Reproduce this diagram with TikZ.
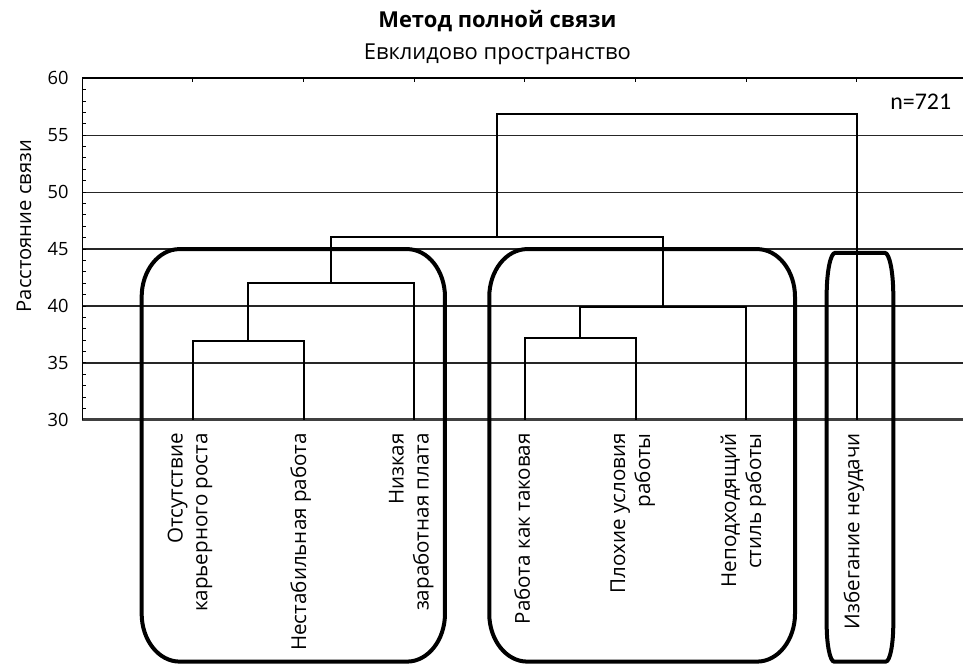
\documentclass[tikz,border=0pt]{standalone}
\usepackage{fontspec}
\setmainfont{Open Sans}
\newfontfamily\calibrifont{Carlito}
\usepackage{tikz}
\tikzset{
    link/.style={draw=black, line width=0.42mm},
    gridline/.style={draw=black!85, line width=0.25mm},
    cluster/.style={draw=black, line width=0.8mm},
    leaflabel/.style={rotate=90, anchor=east, align=right, inner sep=0pt, font=\fontsize{11.7pt}{14.2pt}\selectfont},
    ticklabel/.style={anchor=east, inner sep=0pt, font=\fontsize{10.4pt}{12pt}\selectfont}
}

\begin{document}
\begin{tikzpicture}[x=2.2134cm, y=0.2278cm]
    \useasboundingbox (-0.744,8.49) rectangle (7.958,66.87);
    % grid and axes
    \foreach \d in {35,40,...,55}
        \draw[gridline] (0,\d) -- (7.958,\d);
    \draw[black!75, line width=0.6mm] (0,30) -- (7.958,30);
    \draw[line width=0.3mm] (0,30) -- (0,60) -- (7.958,60);
    \foreach \d in {31,...,59}
        \draw[line width=0.2mm] (0,\d) -- ++(0.07cm,0);
    \foreach \i in {1,...,7}
        \draw[line width=0.2mm] (\i,60) -- ++(0,-0.08cm);
    \foreach \d in {30,35,...,60}
        \node[ticklabel] (t\d) at ([xshift=-0.27cm]0,\d) {\d};

    \node[anchor=base, font=\fontsize{12.5pt}{15pt}\selectfont\bfseries] (title) at (3.75,64.42) {Метод полной связи};
    \node[anchor=base, font=\fontsize{12.5pt}{15pt}\selectfont] (subtitle) at (3.75,61.61) {Евклидово пространство};
    \node[rotate=90, font=\fontsize{11.5pt}{13pt}\selectfont] (ylab) at (-0.527,47.03) {Расстояние связи};
    \node[anchor=base west, inner sep=0pt, font=\calibrifont\fontsize{13.6pt}{16pt}\selectfont] (nlab) at (7.298,57.22) {n=721};

    % leaves and merges
    \foreach \i in {1,...,7}
        \coordinate (l\i) at (\i,30);
    \coordinate (m12) at (1.5,36.96);
    \coordinate (m123) at (2.25,42.0);
    \coordinate (m45) at (4.5,37.23);
    \coordinate (m456) at (5.25,39.89);
    \coordinate (mA) at (3.75,46.04);
    \coordinate (mAll) at (5.375,56.84);

    \draw[link] (l1) |- (m12) -| (l2);
    \draw[link] (m12) |- (m123) -| (l3);
    \draw[link] (l4) |- (m45) -| (l5);
    \draw[link] (m45) |- (m456) -| (l6);
    \draw[link] (m123) |- (mA) -| (m456);
    \draw[link] (mA) |- (mAll) -| (l7);

    \foreach \i/\txt in {1/{Отсутствие\\карьерного роста}, 2/{Нестабильная работа},
                        3/{Низкая\\заработная плата}, 4/{Работа как таковая},
                        5/{Плохие условия\\работы}, 6/{Неподходящий\\стиль работы},
                        7/{Избегание неудачи}}
        \node[leaflabel] (lab\i) at ([xshift=-0.06cm, yshift=-0.26cm]\i,30) {\txt};

    % clusters
    \draw[cluster] ([yshift=-0.96cm]0.536,45) arc[start angle=180, end angle=90, x radius=0.76cm, y radius=0.96cm]
        -- ([xshift=-0.76cm]3.277,45) arc[start angle=90, end angle=0, x radius=0.76cm, y radius=0.96cm]
        -- ([yshift=0.96cm]3.277,8.78) arc[start angle=0, end angle=-90, x radius=0.76cm, y radius=0.96cm]
        -- ([xshift=0.76cm]0.536,8.78) arc[start angle=270, end angle=180, x radius=0.76cm, y radius=0.96cm]
        -- cycle;
    \draw[cluster] ([yshift=-0.96cm]3.677,45) arc[start angle=180, end angle=90, x radius=0.76cm, y radius=0.96cm]
        -- ([xshift=-0.76cm]6.44,45) arc[start angle=90, end angle=0, x radius=0.76cm, y radius=0.96cm]
        -- ([yshift=0.96cm]6.44,8.78) arc[start angle=0, end angle=-90, x radius=0.76cm, y radius=0.96cm]
        -- ([xshift=0.76cm]3.677,8.78) arc[start angle=270, end angle=180, x radius=0.76cm, y radius=0.96cm]
        -- cycle;
    \draw[cluster] ([yshift=-0.85cm]6.726,44.67) arc[start angle=180, end angle=90, x radius=0.17cm, y radius=0.85cm]
        -- ([xshift=-0.17cm]7.328,44.67) arc[start angle=90, end angle=0, x radius=0.17cm, y radius=0.85cm]
        -- ([yshift=0.75cm]7.328,8.78) arc[start angle=0, end angle=-90, x radius=0.15cm, y radius=0.75cm]
        -- ([xshift=0.15cm]6.726,8.78) arc[start angle=270, end angle=180, x radius=0.15cm, y radius=0.75cm]
        -- cycle;
\end{tikzpicture}
\end{document}
